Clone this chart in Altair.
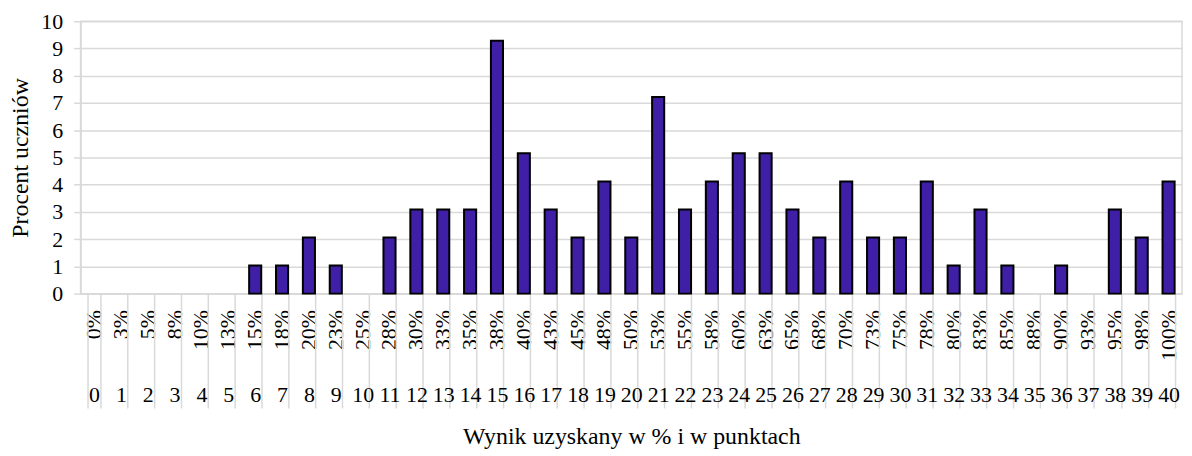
import altair as alt
import pandas as pd

# categories: points scored
punkty = [0, 1, 2, 3, 4, 5, 6, 7, 8, 9, 10, 11, 12, 13, 14, 15, 16, 17, 18, 19, 20,
          21, 22, 23, 24, 25, 26, 27, 28, 29, 30, 31, 32, 33, 34, 35, 36, 37, 38, 39, 40]
# percentage tick labels
procent_wyniku = ["0%", "3%", "5%", "8%", "10%", "13%", "15%", "18%", "20%", "23%", "25%",
                  "28%", "30%", "33%", "35%", "38%", "40%", "43%", "45%", "48%", "50%",
                  "53%", "55%", "58%", "60%", "63%", "65%", "68%", "70%", "73%", "75%",
                  "78%", "80%", "83%", "85%", "88%", "90%", "93%", "95%", "98%", "100%"]
# percent of students
procent_uczniow = [0, 0, 0, 0, 0, 0, 1.03, 1.03, 2.06, 1.03, 0,
                   2.06, 3.09, 3.09, 3.09, 9.28, 5.15, 3.09, 2.06, 4.12, 2.06,
                   7.22, 3.09, 4.12, 5.15, 5.15, 3.09, 2.06, 4.12, 2.06, 2.06,
                   4.12, 1.03, 3.09, 1.03, 0, 1.03, 0, 3.09, 2.06, 4.12]

df = pd.DataFrame({"pkt": punkty, "val": procent_uczniow})

FONT = "Liberation Serif"
GRAY = "#d9d9d9"
label_expr = "[" + ",".join("'" + s + "'" for s in procent_wyniku) + "][datum.value]"

xscale = alt.Scale(domain=punkty, paddingInner=0.55, paddingOuter=0.275)

bars = alt.Chart(df).transform_filter("datum.val > 0").mark_bar(
    color="#3f1fa6", stroke="black", strokeWidth=2).encode(
    x=alt.X("pkt:O", scale=xscale, sort=None,
            axis=alt.Axis(orient="bottom", labelExpr=label_expr, labelAngle=-90,
                          labelAlign="right", labelBaseline="middle", ticks=False,
                          labelPadding=16, domainColor=GRAY, domainWidth=1.5,
                          title=None, labelFont=FONT, labelFontSize=22,
                          labelColor="black", labelOverlap=False)),
    y=alt.Y("val:Q", scale=alt.Scale(domain=[0, 10]),
            axis=alt.Axis(values=[0, 1, 2, 3, 4, 5, 6, 7, 8, 9, 10],
                          title="Procent uczniów", grid=True, gridColor=GRAY,
                          gridWidth=1.5, tickColor=GRAY, tickSize=7, tickWidth=1.5,
                          domainColor=GRAY, domainWidth=1.5, labelPadding=11,
                          labelFont=FONT, labelFontSize=22, labelColor="black",
                          titleFont=FONT, titleFontSize=24, titleFontWeight="normal",
                          titleColor="black", titlePadding=8)),
)

ghost = alt.Chart(df).mark_bar(opacity=0).encode(
    x=alt.X("pkt:O", scale=xscale, sort=None,
            axis=alt.Axis(orient="bottom", labelAngle=0, tickBand="extent",
                          tickSize=115, tickColor=GRAY, tickWidth=1.5,
                          labelPadding=-23, domain=False, labelOverlap=False,
                          labelFont=FONT, labelFontSize=22, labelColor="black",
                          title="Wynik uzyskany w % i w punktach",
                          titleFont=FONT, titleFontSize=24, titleFontWeight="normal",
                          titleColor="black", titlePadding=16)),
)

chart = alt.layer(bars, ghost).resolve_axis(x="independent").properties(
    width=1108, height=274,
    autosize=alt.AutoSizeParams(type="none"),
    padding={"left": 73, "top": 12, "right": 2, "bottom": 160},
).configure_view(stroke=GRAY, strokeWidth=1.5)

chart.save("out.html", embed_options={"renderer": "svg", "actions": False})
